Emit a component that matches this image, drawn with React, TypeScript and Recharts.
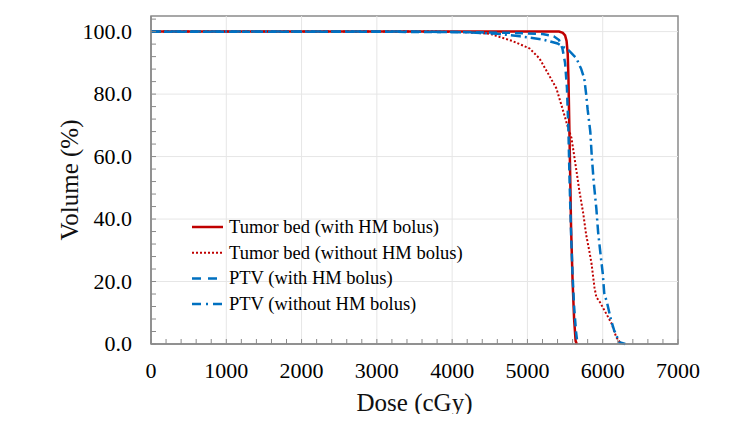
import React from 'react';
import { LineChart, Line, XAxis, YAxis, ReferenceLine, ReferenceArea } from 'recharts';

// Tumor bed (with HM bolus)
const tbWithDose = [0, 5000, 5420, 5470, 5500, 5520, 5535, 5545, 5560, 5580, 5600, 5620, 5640, 5655];
const tbWithVol = [100, 100, 100, 99.6, 98.8, 97, 93, 85, 65, 37, 20, 8, 1, 0];

// Tumor bed (without HM bolus)
const tbWithoutDose = [0, 3800, 4200, 4500, 4800, 5030, 5160, 5265, 5385, 5465, 5530, 5585, 5650, 5690, 5740, 5780, 5820, 5850, 5890, 5915, 5960, 6020, 6115, 6180, 6245];
const tbWithoutVol = [100, 100, 99.8, 99.3, 97, 94.6, 91.4, 87, 81.8, 75.4, 70, 66, 55.6, 49, 42, 35, 30, 26, 18.2, 15, 13.5, 10.9, 6.7, 2.2, 0];

// PTV (with HM bolus)
const ptvWithDose = [0, 4000, 4800, 5200, 5350, 5420, 5465, 5500, 5525, 5545, 5560, 5580, 5600, 5620, 5645, 5665];
const ptvWithVol = [100, 99.9, 99.6, 99.2, 98.5, 97.3, 94.6, 90, 82, 68, 52, 35, 22, 12, 4, 0];

// PTV (without HM bolus)
const ptvWithoutDose = [0, 3500, 4200, 4600, 4900, 5200, 5400, 5550, 5650, 5715, 5755, 5780, 5800, 5835, 5855, 5880, 5915, 5940, 5980, 6000, 6020, 6060, 6110, 6150, 6220, 6300];
const ptvWithoutVol = [100, 100, 99.8, 99.3, 98.5, 97.5, 96.2, 94, 91.5, 88, 85, 80, 75, 68, 60, 52, 43.5, 35.5, 26.8, 22.7, 16.3, 13, 7.7, 4.5, 0.6, 0];

const xTicks = Array.from({ length: 36 }, (_, i) => i * 200);
const yTicks = Array.from({ length: 27 }, (_, i) => i * 4);
const xGrid = [1000, 2000, 3000, 4000, 5000, 6000];
const yGrid = [20, 40, 60, 80, 100];

const RED = '#C00000';
const BLUE = '#0070C0';
const FONT = "'Liberation Serif', 'Times New Roman', Times, 'DejaVu Serif', serif";

const zip = (d: number[], v: number[]) => d.map((dose, i) => ({ dose, vol: v[i] }));

const series = [
  { name: 'Tumor bed (with HM bolus)', data: zip(tbWithDose, tbWithVol), color: RED, dash: undefined as string | undefined, width: 2.5, legendDash: undefined as string | undefined },
  { name: 'Tumor bed (without HM bolus)', data: zip(tbWithoutDose, tbWithoutVol), color: RED, dash: '2 2', width: 2, legendDash: '2 2' },
  { name: 'PTV (with HM bolus)', data: zip(ptvWithDose, ptvWithVol), color: BLUE, dash: '8 5', width: 2.5, legendDash: '9 7' },
  { name: 'PTV (without HM bolus)', data: zip(ptvWithoutDose, ptvWithoutVol), color: BLUE, dash: '10 4 2 4', width: 2.5, legendDash: '9 5 2 5' },
];

const AXIS = '#8a8a8a';

const XTick = (props: any) => {
  const { x, y, payload } = props;
  const v = payload.value;
  const major = v % 1000 === 0;
  return (
    <g>
      <line x1={x} x2={x} y1={y} y2={y - 5} stroke={AXIS} strokeWidth={1} />
      {major && (
        <text x={x} y={y + 34} textAnchor="middle" style={{ fontFamily: FONT, fontSize: 22 }} fill="#000">
          {v}
        </text>
      )}
    </g>
  );
};

const YTick = (props: any) => {
  const { x, y, payload } = props;
  const v = payload.value;
  const major = v % 20 === 0;
  return (
    <g>
      <line x1={x} x2={x + 5} y1={y} y2={y} stroke={AXIS} strokeWidth={1} />
      {major && (
        <text x={x - 19} y={y + 7} textAnchor="end" style={{ fontFamily: FONT, fontSize: 22 }} fill="#000">
          {v.toFixed(1)}
        </text>
      )}
    </g>
  );
};

export default function App() {
  return (
    <div style={{ position: 'relative', width: 734, height: 414, marginBottom: -8, fontFamily: FONT }}>
      <LineChart width={734} height={414} margin={{ top: 8, right: 64, bottom: 8, left: 0 }} style={{ fontFamily: FONT }}>
        <XAxis
          type="number"
          dataKey="dose"
          domain={[0, 7000]}
          ticks={xTicks}
          interval={0}
          tick={<XTick />}
          tickLine={false}
          tickSize={0}
          tickMargin={0}
          height={70}
          axisLine={{ stroke: AXIS, strokeWidth: 1.5 }}
          allowDuplicatedCategory={false}
          label={{ value: 'Dose (cGy)', position: 'center', dy: 23, style: { fontFamily: FONT, fontSize: 25, fill: '#111' } }}
        />
        <YAxis
          type="number"
          dataKey="vol"
          domain={[0, 105]}
          ticks={yTicks}
          interval={0}
          tick={<YTick />}
          tickLine={false}
          tickSize={0}
          tickMargin={0}
          width={143}
          axisLine={{ stroke: AXIS, strokeWidth: 1.5 }}
          label={{ value: 'Volume (%)', angle: -90, position: 'center', dx: -10, style: { fontFamily: FONT, fontSize: 25, fill: '#111' } }}
        />
        {xGrid.map((g) => (
          <ReferenceLine key={'x' + g} x={g} stroke="#e6e6e6" strokeWidth={1} />
        ))}
        {yGrid.map((g) => (
          <ReferenceLine key={'y' + g} y={g} stroke="#e6e6e6" strokeWidth={1} />
        ))}
        <ReferenceArea x1={0} x2={7000} y1={0} y2={105} fill="none" stroke={AXIS} strokeWidth={1.5} />
        {series.map((s) => (
          <Line
            key={s.name}
            data={s.data}
            dataKey="vol"
            name={s.name}
            type="linear"
            stroke={s.color}
            strokeWidth={s.width}
            strokeDasharray={s.dash}
            dot={false}
            activeDot={false}
            isAnimationActive={false}
          />
        ))}
      </LineChart>
      <svg width={734} height={414} style={{ position: 'absolute', left: 0, top: 0, pointerEvents: 'none' }}>
        {series.map((s, i) => {
          const cy = 219 + i * 25.7;
          return (
            <g key={s.name}>
              <line x1={184} x2={215} y1={cy} y2={cy} stroke={s.color} strokeWidth={s.width} strokeDasharray={s.legendDash} />
              <text x={221} y={cy + 6} style={{ fontFamily: FONT, fontSize: 18.5 }} fill="#000">
                {s.name}
              </text>
            </g>
          );
        })}
      </svg>
    </div>
  );
}
